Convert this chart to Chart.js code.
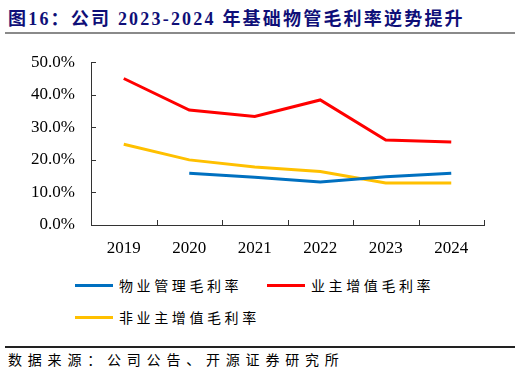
<!DOCTYPE html>
<html>
<head>
<meta charset="utf-8">
<script src="https://cdn.jsdelivr.net/npm/chart.js@4"></script>
<style>
  body { margin: 0; background: #fff; width: 522px; height: 377px; position: relative; overflow: hidden; }
  #title { position: absolute; left: 8px; top: 4px; font: bold 18px "Liberation Serif", "Noto Sans CJK SC"; color: #0f0f78; letter-spacing: 2.2px; white-space: nowrap; }
  .rule { position: absolute; left: 5px; width: 510px; }
  #wrap { position: absolute; left: 0; top: 36px; width: 522px; height: 226px; }
  #legend { position: absolute; left: 75px; top: 275px; font: 14px "Noto Sans CJK SC"; color: #000; letter-spacing: 3.6px; }
  .item { position: absolute; white-space: nowrap; height: 20px; line-height: 20px; }
  .item span.sw { position: absolute; left: 0; top: 9px; width: 38px; height: 3px; }
  .item span.tx { position: absolute; left: 44px; top: 0; }
  #source { position: absolute; left: 8px; top: 349px; font: 14px "Noto Sans CJK SC"; color: #000; letter-spacing: 5.8px; white-space: nowrap; }
</style>
</head>
<body>
<div id="title">图16：公司 2023-2024 年基础物管毛利率逆势提升</div>
<div class="rule" style="top:32px;height:2px;background:#8a8a8a;"></div>
<div id="wrap"><canvas id="chart"></canvas></div>
<div id="legend"></div>
<div class="rule" style="top:346px;height:2px;background:#222;"></div>
<div id="source">数据来源：公司公告、开源证券研究所</div>
<script>
// 年份
const years = ['2019', '2020', '2021', '2022', '2023', '2024'];
// 毛利率 (%)
const propertyMgmt = [null, 15.9, 14.7, 13.2, 14.8, 15.9];
const ownerValueAdded = [45.0, 35.3, 33.3, 38.4, 26.1, 25.5];
const nonOwnerValueAdded = [24.8, 20.0, 17.8, 16.4, 12.9, 12.9];
const seriesNames = ['物业管理毛利率', '业主增值毛利率', '非业主增值毛利率'];
const seriesColors = ['#0070C0', '#FF0000', '#FFC000'];

// inward tick marks, like the original
const innerTicks = {
    id: 'innerTicks',
    afterDraw(c) {
        const g = c.ctx, a = c.chartArea, x = c.scales.x, y = c.scales.y;
        g.save();
        g.strokeStyle = '#333';
        g.lineWidth = 1;
        g.beginPath();
        y.ticks.forEach(t => {
            const py = Math.round(y.getPixelForValue(t.value)) + 0.5;
            g.moveTo(a.left, py);
            g.lineTo(a.left + 5, py);
        });
        const n = x.ticks.length;
        for (let i = 0; i <= n; i++) {
            let px;
            if (i === 0) px = a.left;
            else if (i === n) px = a.right;
            else px = (x.getPixelForValue(i - 1) + x.getPixelForValue(i)) / 2;
            px = Math.round(px) + 0.5;
            g.moveTo(px, a.bottom);
            g.lineTo(px, a.bottom - 5);
        }
        g.stroke();
        g.restore();
    }
};

const ctx = document.getElementById('chart').getContext('2d');
const chart = new Chart(ctx, {
    type: 'line',
    data: {
        labels: years,
        datasets: [propertyMgmt, ownerValueAdded, nonOwnerValueAdded].map((d, i) => ({
            label: seriesNames[i],
            data: d,
            borderColor: seriesColors[i],
            backgroundColor: seriesColors[i],
            borderWidth: 3,
            pointRadius: 0,
            tension: 0,
            fill: false
        }))
    },
    options: {
        responsive: true,
        maintainAspectRatio: false,
        animation: false,
        layout: { padding: { top: 0, right: 38, bottom: 0, left: 0 } },
        plugins: { legend: { display: false }, tooltip: { enabled: false } },
        scales: {
            x: {
                offset: true,
                grid: { offset: true, drawOnChartArea: false, drawTicks: false },
                border: { color: '#333', width: 1 },
                ticks: { color: '#000', font: { family: 'Liberation Serif', size: 17 }, padding: 13, maxRotation: 0 },
                afterFit: s => { s.height = 37; }
            },
            y: {
                min: 0,
                max: 50,
                ticks: {
                    stepSize: 10,
                    color: '#000',
                    font: { family: 'Liberation Serif', size: 17 },
                    padding: 16,
                    callback: v => v.toFixed(1) + '%'
                },
                grid: { drawOnChartArea: false, drawTicks: false },
                border: { color: '#333', width: 1 },
                afterFit: s => { s.width = 91; }
            }
        }
    },
    plugins: [innerTicks]
});

// 图例
const legend = document.getElementById('legend');
const spots = [[0, 0], [192, 0], [0, 32]];
chart.data.datasets.forEach((ds, i) => {
    const el = document.createElement('div');
    el.className = 'item';
    el.style.left = spots[i][0] + 'px';
    el.style.top = spots[i][1] + 'px';
    el.innerHTML = '<span class="sw" style="background:' + ds.borderColor + '"></span><span class="tx">' + ds.label + '</span>';
    legend.appendChild(el);
});
</script>
</body>
</html>
